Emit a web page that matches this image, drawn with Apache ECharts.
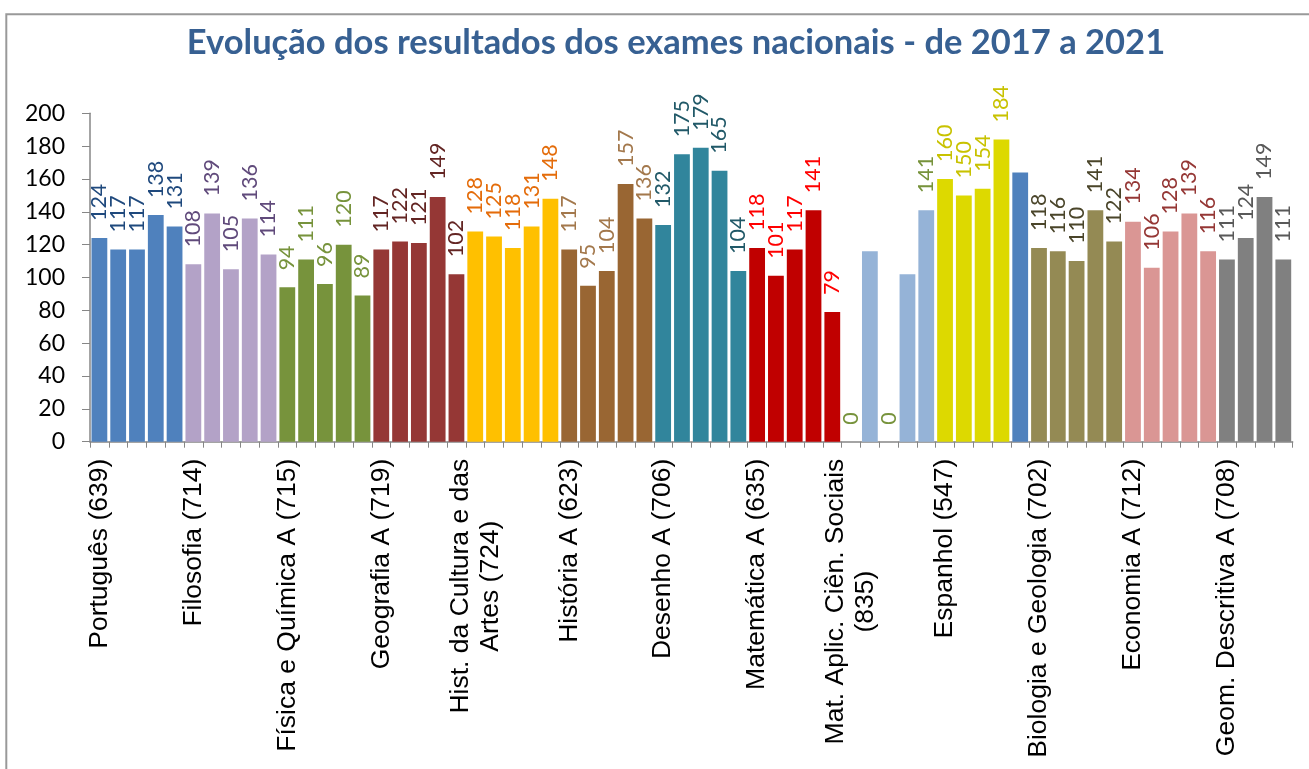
<!DOCTYPE html>
<html>
<head>
<meta charset="utf-8">
<title>Evolução dos resultados dos exames nacionais</title>
<script src="https://cdn.jsdelivr.net/npm/echarts@6/dist/echarts.min.js"></script>
<style>
  html, body { margin: 0; padding: 0; background: #fff; }
  #chart { width: 1309px; height: 769px; }
</style>
</head>
<body>
<div id="chart"></div>
<script>
  // one entry per exam, five years each (2017 -> 2021)
  var subjects = [
    "Português (639)",
    "Filosofia (714)",
    "Física e Química A (715)",
    "Geografia A (719)",
    "Hist. da Cultura e das\nArtes (724)",
    "História A (623)",
    "Desenho A (706)",
    "Matemática A (635)",
    "Mat. Aplic. Ciên. Sociais\n(835)",
    "Espanhol (547)",
    "Biologia e Geologia (702)",
    "Economia A (712)",
    "Geom. Descritiva A (708)"
  ];

  var portugues = [124, 117, 117, 138, 131];
  var filosofia = [108, 139, 105, 136, 114];
  var fisicaQuimica = [94, 111, 96, 120, 89];
  var geografia = [117, 122, 121, 149, 102];
  var histCultura = [128, 125, 118, 131, 148];
  var historia = [117, 95, 104, 157, 136];
  var desenho = [132, 175, 179, 165, 104];
  var matematica = [118, 101, 117, 141, 79];
  var matAplicada = [0, 116, 0, 102, 141];
  var espanhol = [160, 150, 154, 184, 164];
  var biologia = [118, 116, 110, 141, 122];
  var economia = [134, 106, 128, 139, 116];
  var geometria = [111, 124, 149, 111];

  var groups = [portugues, filosofia, fisicaQuimica, geografia, histCultura,
    historia, desenho, matematica, matAplicada, espanhol, biologia, economia, geometria];

  // bars whose value label is missing in the original
  var unlabelled = [41, 43, 49];

  var barColors = ["#4F81BD", "#B3A2C7", "#77933C", "#953735", "#FFC000", "#996633",
    "#31859C", "#C00000", "#95B3D7", "#DDD900", "#948A54", "#DA9694", "#808080"];
  var labelColors = ["#1F497D", "#604A7B", "#77933C", "#632523", "#E46C0A", "#A3784C",
    "#215968", "#FF0000", "#77933C", "#C8C200", "#4A452A", "#953735", "#595959"];
  var oddColors = { 49: "#4F81BD" };

  var categories = [];
  var barData = [];
  groups.forEach(function (vals, g) {
    vals.forEach(function (v, k) {
      var idx = barData.length;
      categories.push(k === 0 ? subjects[g] : "");
      barData.push({
        value: v,
        itemStyle: { color: oddColors[idx] || barColors[g] },
        label: { show: unlabelled.indexOf(idx) < 0, color: labelColors[g] }
      });
    });
  });

  var chart = echarts.init(document.getElementById("chart"));

  chart.setOption({
    animation: false,
    graphic: [
      {
        type: "rect",
        silent: true,
        shape: { x: 6.3, y: 14.3, width: 1400, height: 900 },
        style: { fill: "none", stroke: "#999999", lineWidth: 2 }
      },
      {
        type: "text",
        x: 676,
        y: 43,
        style: {
          text: "Evolução dos resultados dos exames nacionais - de 2017 a 2021",
          fill: "#376092",
          font: "bold 34.5px Lato",
          align: "center",
          verticalAlign: "middle"
        }
      }
    ],
    grid: {
      left: 90,
      right: 16.3,
      top: 113.3,
      bottom: 327.3,
      containLabel: false,
      outerBoundsMode: "none"
    },
    xAxis: {
      type: "category",
      data: categories,
      axisLine: { lineStyle: { color: "#868686", width: 1.5 } },
      axisTick: { show: true, interval: 0, length: 6, lineStyle: { color: "#868686" } },
      axisLabel: {
        interval: 0,
        rotate: 90,
        margin: 17,
        formatter: function (v) {
          if (!v) {
            return "";
          }
          return v.split("\n").map(function (s) {
            return "{c|" + s + "}";
          }).join("\n");
        },
        rich: {
          c: {
            align: "center",
            fontFamily: "Liberation Sans",
            fontSize: 26.5,
            lineHeight: 30,
            color: "#000"
          }
        }
      }
    },
    yAxis: {
      type: "value",
      min: 0,
      max: 200,
      interval: 20,
      splitLine: { show: false },
      axisLine: { show: true, lineStyle: { color: "#868686", width: 1.5 } },
      axisTick: { show: true, length: 8, lineStyle: { color: "#868686" } },
      axisLabel: {
        margin: 25,
        fontFamily: "Lato",
        fontSize: 23,
        color: "#000"
      }
    },
    series: [
      {
        type: "bar",
        data: barData,
        barCategoryGap: "16%",
        label: {
          show: true,
          position: "top",
          rotate: 90,
          align: "left",
          verticalAlign: "middle",
          distance: 17,
          fontFamily: "Lato",
          fontSize: 21.5
        }
      }
    ]
  });

  window.addEventListener("resize", function () {
    chart.resize();
  });
</script>
</body>
</html>
